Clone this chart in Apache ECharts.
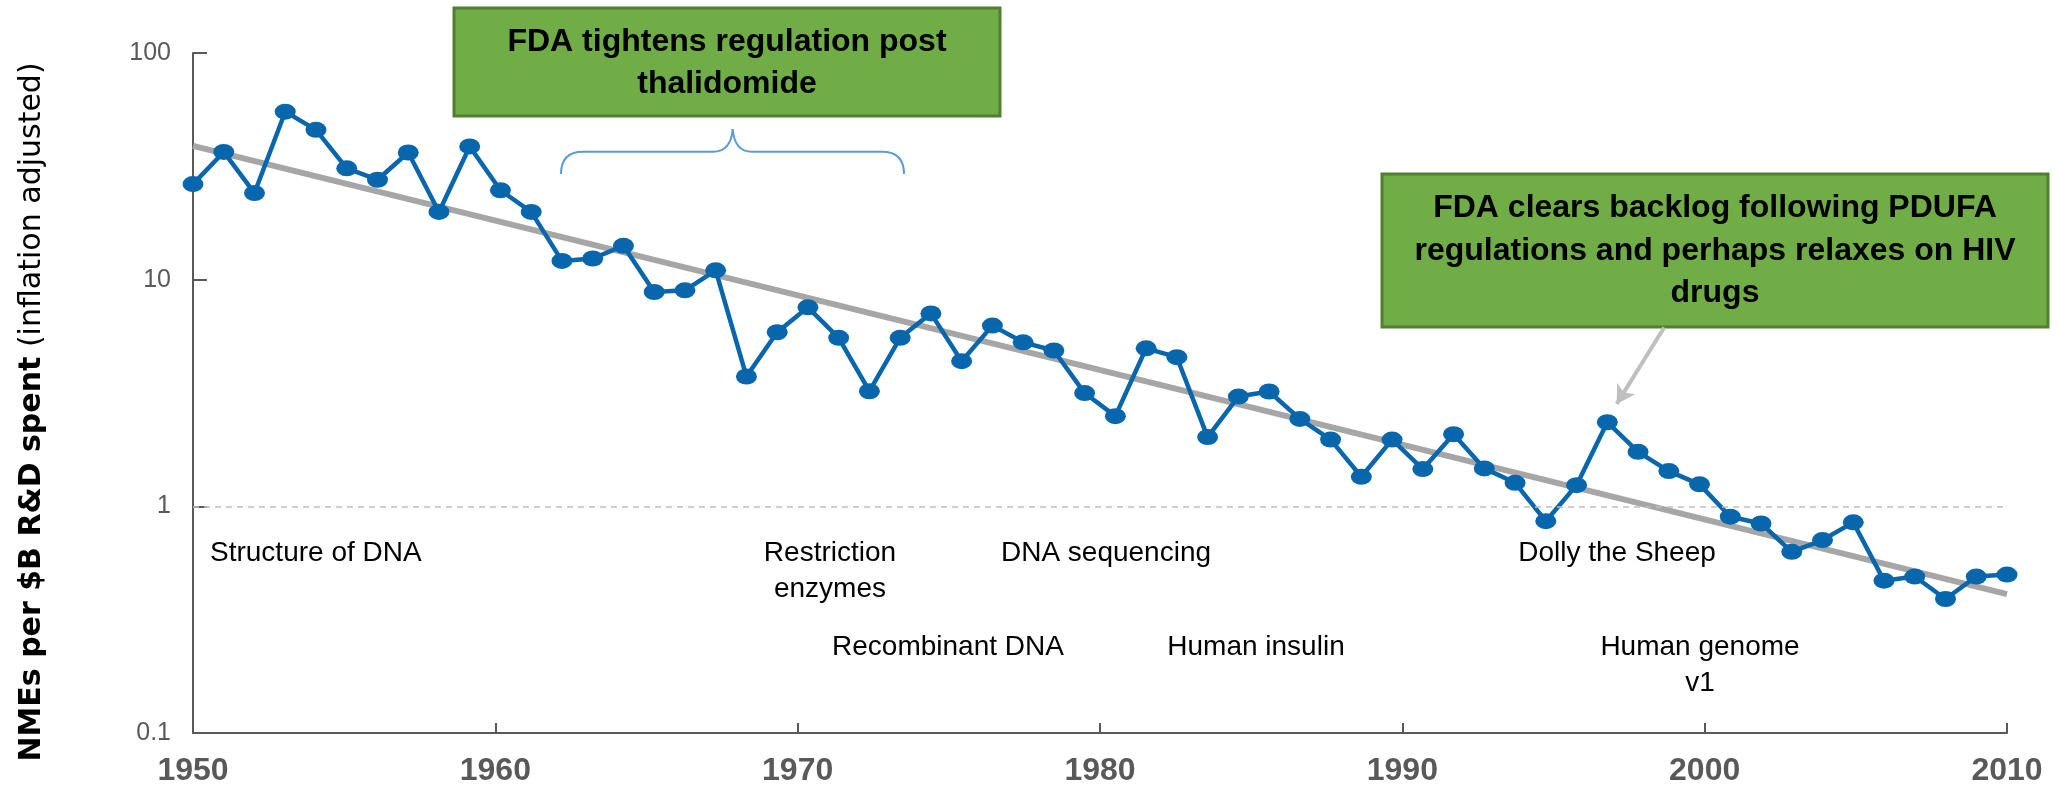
<!DOCTYPE html>
<html>
<head>
<meta charset="utf-8">
<title>NMEs per $B R&amp;D spent</title>
<script src="https://cdn.jsdelivr.net/npm/echarts@6/dist/echarts.min.js"></script>
<style>
  html, body { margin: 0; padding: 0; background: #fff; }
  #chart { width: 2059px; height: 798px; }
</style>
</head>
<body>
<div id="chart"></div>
<script>
'use strict';

// yearly points
var years = [
  '1950', '1951', '1952', '1953', '1954', '1955', '1956', '1957', '1958', '1959',
  '1960', '1961', '1962', '1963', '1964', '1965', '1966', '1967', '1968', '1969',
  '1970', '1971', '1972', '1973', '1974', '1975', '1976', '1977', '1978', '1979',
  '1980', '1981', '1982', '1983', '1984', '1985', '1986', '1987', '1988', '1989',
  '1990', '1991', '1992', '1993', '1994', '1995', '1996', '1997', '1998', '1999',
  '2000', '2001', '2002', '2003', '2004', '2005', '2006', '2007', '2008', '2009'
];
var nmesPerBillion = [
  26.4, 36.6, 24.1, 55.1, 45.8, 31.0, 27.6, 36.4, 19.9, 38.7,
  24.8, 19.9, 12.1, 12.4, 14.1, 8.82, 8.97, 11.0, 3.74, 5.86,
  7.55, 5.54, 3.22, 5.54, 7.10, 4.37, 6.27, 5.29, 4.87, 3.16,
  2.50, 4.98, 4.55, 2.02, 3.05, 3.21, 2.43, 1.97, 1.35, 1.97,
  1.46, 2.08, 1.47, 1.27, 0.86, 1.24, 2.35, 1.74, 1.43, 1.25,
  0.90, 0.84, 0.63, 0.71, 0.85, 0.47, 0.49, 0.39, 0.49, 0.50
];

// trend line end points
var trendYears = [1950, 2010];
var trendValues = [38.9, 0.41];

// axis range
var yearTicks = [1950, 1960, 1970, 1980, 1990, 2000, 2010];
var valueTicks = [0.1, 1, 10, 100];

var FONT = '"Liberation Sans", Arial, sans-serif';
var TITLE_FONT = '"DejaVu Sans", Verdana, sans-serif';

var myChart = echarts.init(document.getElementById('chart'));

var trendData = trendYears.map(function (y, i) {
  return [y, trendValues[i]];
});

// text notes under the curve
var notes = [
  { text: 'Structure of DNA', x: 210, y: 553, align: 'left' },
  { text: 'Restriction\nenzymes', x: 830, y: 571, align: 'center' },
  { text: 'DNA sequencing', x: 1106, y: 553, align: 'center' },
  { text: 'Recombinant DNA', x: 948, y: 647, align: 'center' },
  { text: 'Human insulin', x: 1256, y: 647, align: 'center' },
  { text: 'Dolly the Sheep', x: 1617, y: 553, align: 'center' },
  { text: 'Human genome\nv1', x: 1700, y: 665, align: 'center' }
];

var graphics = notes.map(function (n) {
  return {
    type: 'text',
    x: n.x,
    y: n.y,
    silent: true,
    style: {
      text: n.text,
      fontFamily: FONT,
      fontSize: 28,
      lineHeight: 36,
      fill: '#000',
      align: n.align,
      verticalAlign: 'middle'
    }
  };
});

// green call-out boxes
graphics.push({
  type: 'rect',
  shape: { x: 454, y: 8, width: 546, height: 108 },
  style: { fill: '#70AD47', stroke: '#527F32', lineWidth: 3 }
}, {
  type: 'text',
  x: 727,
  y: 63,
  style: {
    text: 'FDA tightens regulation post\nthalidomide',
    fontFamily: FONT, fontSize: 32, fontWeight: 'bold', lineHeight: 42,
    fill: '#000', align: 'center', verticalAlign: 'middle'
  }
}, {
  type: 'rect',
  shape: { x: 1382, y: 174, width: 666, height: 153 },
  style: { fill: '#70AD47', stroke: '#527F32', lineWidth: 3 }
}, {
  type: 'text',
  x: 1715,
  y: 251,
  style: {
    text: 'FDA clears backlog following PDUFA\nregulations and perhaps relaxes on HIV\ndrugs',
    fontFamily: FONT, fontSize: 32, fontWeight: 'bold', lineHeight: 42.5,
    fill: '#000', align: 'center', verticalAlign: 'middle'
  }
});

// curly brace under the first box (curves + straight bits)
var braceStyle = { fill: null, stroke: '#5B9BD5', lineWidth: 2 };
graphics.push(
  { type: 'bezierCurve', silent: true, style: braceStyle,
    shape: { x1: 561, y1: 174, cpx1: 561, cpy1: 151.7, x2: 583, y2: 151.7 } },
  { type: 'line', silent: true, style: braceStyle,
    shape: { x1: 583, y1: 151.7, x2: 713, y2: 151.7 } },
  { type: 'bezierCurve', silent: true, style: braceStyle,
    shape: { x1: 713, y1: 151.7, cpx1: 731, cpy1: 151.7, x2: 732.7, y2: 129 } },
  { type: 'bezierCurve', silent: true, style: braceStyle,
    shape: { x1: 732.7, y1: 129, cpx1: 734.4, cpy1: 151.7, x2: 752, y2: 151.7 } },
  { type: 'line', silent: true, style: braceStyle,
    shape: { x1: 752, y1: 151.7, x2: 882, y2: 151.7 } },
  { type: 'bezierCurve', silent: true, style: braceStyle,
    shape: { x1: 882, y1: 151.7, cpx1: 904, cpy1: 151.7, x2: 904, y2: 174 } }
);

// y axis title, bold + regular part
graphics.push({
  type: 'text',
  x: 32,
  y: 412,
  rotation: Math.PI / 2,
  style: {
    text: '{b|NMEs per $B R&D spent} {n|(inflation adjusted)}',
    align: 'center',
    verticalAlign: 'middle',
    fill: '#000',
    fontFamily: TITLE_FONT,
    fontSize: 30,
    rich: {
      b: { fontFamily: TITLE_FONT, fontSize: 30, fontWeight: 'bold', fill: '#000' },
      n: { fontFamily: TITLE_FONT, fontSize: 30, fill: '#000' }
    }
  }
});

var option = {
  animation: false,
  backgroundColor: '#fff',
  grid: { left: 193, right: 52, top: 53, bottom: 65, containLabel: false },
  xAxis: [{
    type: 'value',
    min: yearTicks[0],
    max: yearTicks[yearTicks.length - 1],
    interval: 10,
    axisLine: { onZero: false, lineStyle: { color: '#595959', width: 2 } },
    axisTick: { inside: true, length: 10, lineStyle: { color: '#595959', width: 2 } },
    axisLabel: {
      margin: 22,
      fontFamily: FONT, fontSize: 32, fontWeight: 'bold', color: '#595959',
      formatter: function (v) { return String(v); }
    },
    splitLine: { show: false }
  }, {
    type: 'category',
    data: years,
    boundaryGap: false,
    show: false
  }],
  yAxis: {
    type: 'log',
    logBase: 10,
    min: valueTicks[0],
    max: valueTicks[valueTicks.length - 1],
    axisLine: { show: true, onZero: false, lineStyle: { color: '#595959', width: 2 } },
    axisTick: { show: true, inside: true, length: 14, lineStyle: { color: '#595959', width: 2 } },
    axisLabel: {
      margin: 22, fontFamily: FONT, fontSize: 25, color: '#595959',
      formatter: function (v) { return String(v); }
    },
    splitLine: { show: false }
  },
  series: [{
    name: 'trend',
    type: 'line',
    xAxisIndex: 0,
    data: trendData,
    symbol: 'none',
    z: 2,
    lineStyle: { color: '#A6A6A6', width: 6 },
    markLine: {
      silent: true,
      symbol: ['none', 'none'],
      label: { show: false },
      data: [
        { yAxis: 1, lineStyle: { color: '#BFBFBF', type: [6, 5], width: 1.5 } },
        [
          { coord: [1998.66, 6.15], symbol: 'none', lineStyle: { color: '#BFBFBF', type: 'solid', width: 4 } },
          { coord: [1997.09, 2.83], symbol: 'arrow', symbolSize: [16, 18] }
        ]
      ]
    }
  }, {
    name: 'NMEs',
    type: 'line',
    xAxisIndex: 1,
    data: nmesPerBillion,
    z: 3,
    symbol: 'circle',
    symbolSize: [21, 16],
    lineStyle: { color: '#0866AD', width: 4.5 },
    itemStyle: { color: '#0866AD' }
  }],
  graphic: graphics
};

myChart.setOption(option);
</script>
</body>
</html>
